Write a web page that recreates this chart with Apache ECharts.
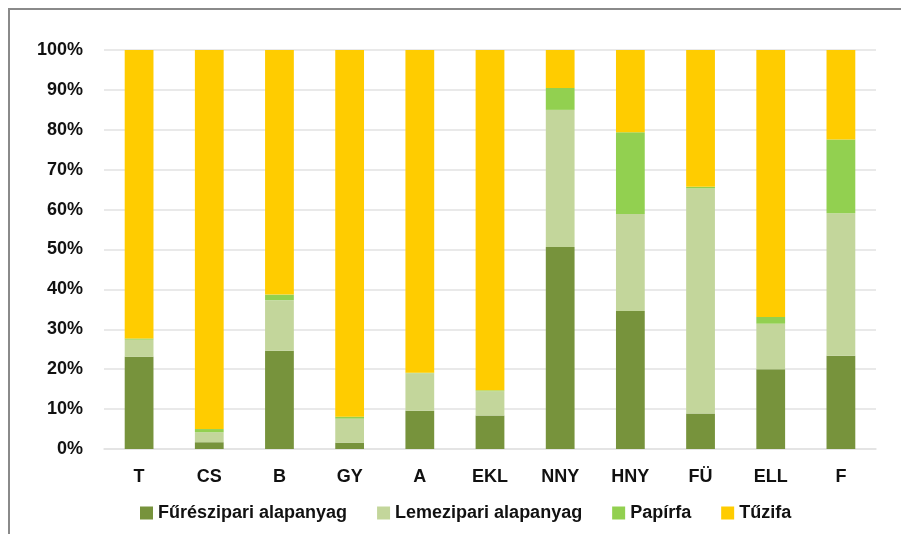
<!DOCTYPE html>
<html>
<head>
<meta charset="utf-8">
<title>Faanyag felhasználás</title>
<script src="https://cdn.jsdelivr.net/npm/echarts@6/dist/echarts.min.js"></script>
<style>
	html, body { margin: 0; padding: 0; background: #fff; }
	#frame {
		position: absolute; left: 8px; top: 8px; width: 893px; height: 526px;
		border-top: 2px solid #8a8a8a; border-left: 2px solid #8a8a8a;
		box-sizing: border-box;
	}
	#chart { position: absolute; left: 0; top: 0; width: 901px; height: 534px; }
</style>
</head>
<body>
<div id="frame"></div>
<div id="chart"></div>
<script>
	// kategóriák
	var categories = ['T', 'CS', 'B', 'GY', 'A', 'EKL', 'NNY', 'HNY', 'FÜ', 'ELL', 'F'];
	var yTicks = [0, 10, 20, 30, 40, 50, 60, 70, 80, 90, 100];

	// arányok (%)
	var fureszipari = [23.1, 1.7, 24.6, 1.6, 9.6, 8.4, 50.6, 34.6, 8.9, 20.0, 23.4];
	var lemezipari  = [4.3, 2.5, 12.7, 6.0, 9.4, 6.1, 34.4, 24.3, 56.4, 11.4, 35.7];
	var papirfa     = [0.3, 0.8, 1.4, 0.5, 0.1, 0.2, 5.5, 20.5, 0.4, 1.7, 18.5];
	var tuzifa      = [72.3, 95.0, 61.3, 91.9, 80.9, 85.3, 9.5, 20.6, 34.3, 66.9, 22.4];

	var names = ['Fűrészipari alapanyag', 'Lemezipari alapanyag', 'Papírfa', 'Tűzifa'];
	var colors = ['#77933c', '#c3d69b', '#92d050', '#ffcc00'];
	var values = [fureszipari, lemezipari, papirfa, tuzifa];

	var font = 'Liberation Sans, Arial, sans-serif';

	var series = [];
	for (var i = 0; i < names.length; i++) {
		series.push({
			name: names[i],
			type: 'bar',
			stack: 'total',
			barWidth: '41%',
			itemStyle: { color: colors[i] },
			data: values[i]
		});
	}

	var chart = echarts.init(document.getElementById('chart'), null, { renderer: 'canvas' });
	chart.setOption({
		animation: false,
		color: colors,
		grid: { left: 104, right: 25, top: 50, bottom: 85 },
		legend: {
			bottom: 7,
			left: 135,
			itemWidth: 13,
			itemHeight: 13,
			itemGap: 30,
			icon: 'rect',
			textStyle: { fontFamily: font, fontSize: 18, fontWeight: 'bold', color: '#111' },
			data: names
		},
		xAxis: {
			type: 'category',
			data: categories,
			axisLine: { show: true, lineStyle: { color: '#e2e2e2', width: 1.5 } },
			axisTick: { show: false },
			axisLabel: { margin: 19, fontFamily: font, fontSize: 18, fontWeight: 'bold', color: '#111' }
		},
		yAxis: {
			type: 'value',
			min: 0,
			max: 100,
			interval: 10,
			axisLine: { show: false },
			axisTick: { show: false },
			splitLine: { lineStyle: { color: '#e2e2e2', width: 1.5 } },
			axisLabel: {
				margin: 21,
				fontFamily: font, fontSize: 18, fontWeight: 'bold', color: '#111',
				formatter: function (v) { return v + '%'; }
			}
		},
		series: series
	});
</script>
</body>
</html>
